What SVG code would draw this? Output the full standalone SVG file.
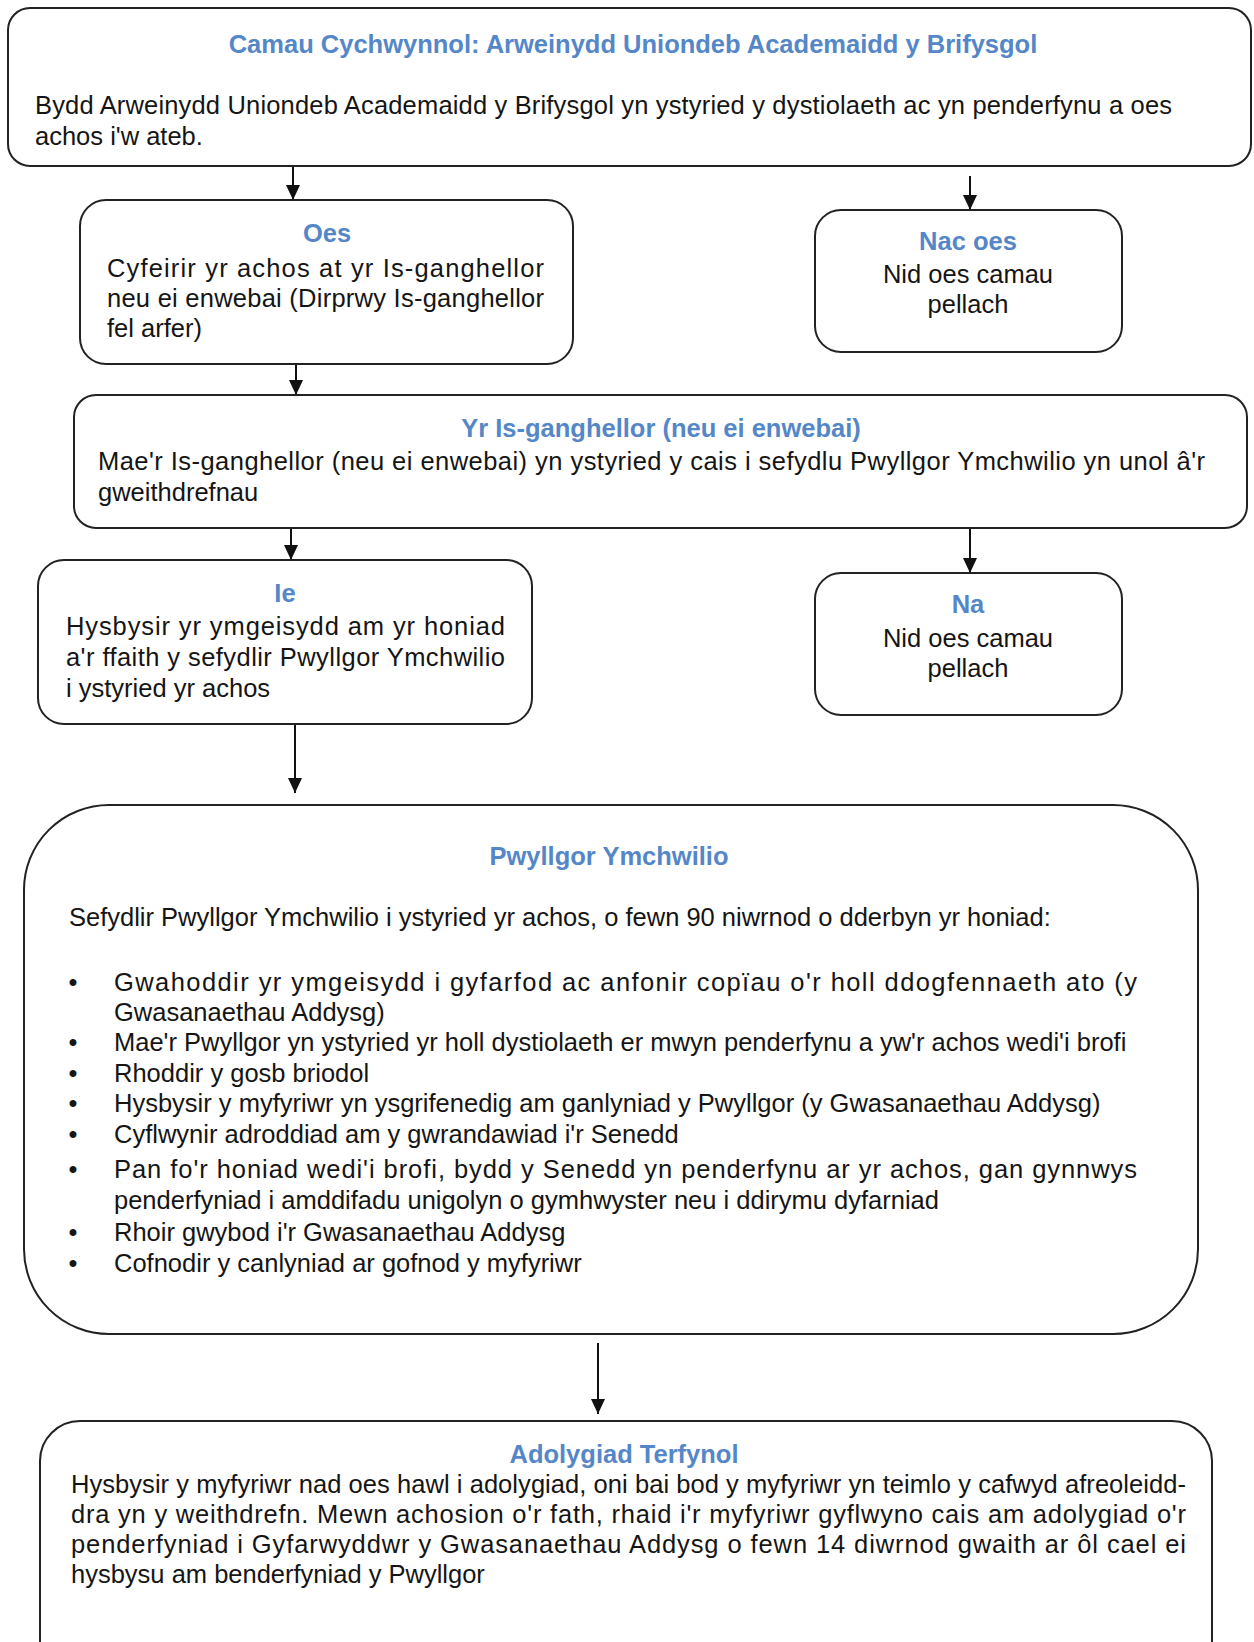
<svg xmlns="http://www.w3.org/2000/svg" width="1254" height="1642" viewBox="0 0 1254 1642">
<style>
.box{fill:#fff;stroke:#222;stroke-width:2}
.t{font-family:"Liberation Sans",Arial,sans-serif;font-size:25.5px;fill:#151515}
.h{font-family:"Liberation Sans",Arial,sans-serif;font-size:25.5px;font-weight:bold;fill:#5587c8;text-anchor:middle}
.c{text-anchor:middle}
.conn{stroke:#111;stroke-width:2;fill:none;marker-end:url(#ah)}
</style>
<defs>
<marker id="ah" viewBox="0 0 15 14" refX="15" refY="7" markerWidth="15" markerHeight="14" markerUnits="userSpaceOnUse" orient="auto">
<path d="M0,0 L15,7 L0,14 z" fill="#111"/>
</marker>
</defs>
<rect width="1254" height="1642" fill="#fff"/>

<g id="connectors">
<line class="conn" x1="293" y1="166" x2="293" y2="200"/>
<line class="conn" x1="970" y1="176" x2="970" y2="210"/>
<line class="conn" x1="296" y1="364" x2="296" y2="395"/>
<line class="conn" x1="291" y1="528" x2="291" y2="560"/>
<line class="conn" x1="970" y1="528" x2="970" y2="573"/>
<line class="conn" x1="295" y1="724" x2="295" y2="793"/>
<line class="conn" x1="598" y1="1343" x2="598" y2="1414"/>
</g>

<g id="node-camau">
<rect class="box" x="8" y="8" width="1243" height="158" rx="22"/>
<text class="h" x="633" y="53">Camau Cychwynnol: Arweinydd Uniondeb Academaidd y Brifysgol</text>
<text class="t" x="35" y="114" textLength="1137">Bydd Arweinydd Uniondeb Academaidd y Brifysgol yn ystyried y dystiolaeth ac yn penderfynu a oes</text>
<text class="t" x="35" y="145">achos i'w ateb.</text>
</g>

<g id="node-oes">
<rect class="box" x="80" y="200" width="493" height="164" rx="26"/>
<text class="h" x="327" y="242">Oes</text>
<text class="t" x="107" y="277" textLength="437">Cyfeirir yr achos at yr Is-ganghellor</text>
<text class="t" x="107" y="307" textLength="437">neu ei enwebai (Dirprwy Is-ganghellor</text>
<text class="t" x="107" y="337">fel arfer)</text>
</g>

<g id="node-nacoes">
<rect class="box" x="815" y="210" width="307" height="142" rx="26"/>
<text class="h" x="968" y="250">Nac oes</text>
<text class="t c" x="968" y="283">Nid oes camau</text>
<text class="t c" x="968" y="313">pellach</text>
</g>

<g id="node-isganghellor">
<rect class="box" x="74" y="395" width="1173" height="133" rx="22"/>
<text class="h" x="661" y="437">Yr Is-ganghellor (neu ei enwebai)</text>
<text class="t" x="98" y="470" textLength="1107">Mae'r Is-ganghellor (neu ei enwebai) yn ystyried y cais i sefydlu Pwyllgor Ymchwilio yn unol â'r</text>
<text class="t" x="98" y="501">gweithdrefnau</text>
</g>

<g id="node-ie">
<rect class="box" x="38" y="560" width="494" height="164" rx="26"/>
<text class="h" x="285" y="602">Ie</text>
<text class="t" x="66" y="635" textLength="439">Hysbysir yr ymgeisydd am yr honiad</text>
<text class="t" x="66" y="666" textLength="439">a'r ffaith y sefydlir Pwyllgor Ymchwilio</text>
<text class="t" x="66" y="697">i ystyried yr achos</text>
</g>

<g id="node-na">
<rect class="box" x="815" y="573" width="307" height="142" rx="26"/>
<text class="h" x="968" y="613">Na</text>
<text class="t c" x="968" y="647">Nid oes camau</text>
<text class="t c" x="968" y="677">pellach</text>
</g>

<g id="node-pwyllgor">
<rect class="box" x="24" y="805" width="1174" height="529" rx="85"/>
<text class="h" x="609" y="865">Pwyllgor Ymchwilio</text>
<text class="t" x="69" y="926">Sefydlir Pwyllgor Ymchwilio i ystyried yr achos, o fewn 90 niwrnod o dderbyn yr honiad:</text>
<g class="t c">
<text x="73" y="991">•</text>
<text x="73" y="1051">•</text>
<text x="73" y="1082">•</text>
<text x="73" y="1112">•</text>
<text x="73" y="1143">•</text>
<text x="73" y="1178">•</text>
<text x="73" y="1241">•</text>
<text x="73" y="1272">•</text>
</g>
<text class="t" x="114" y="991" textLength="1023">Gwahoddir yr ymgeisydd i gyfarfod ac anfonir copïau o'r holl ddogfennaeth ato (y</text>
<text class="t" x="114" y="1021">Gwasanaethau Addysg)</text>
<text class="t" x="114" y="1051">Mae'r Pwyllgor yn ystyried yr holl dystiolaeth er mwyn penderfynu a yw'r achos wedi'i brofi</text>
<text class="t" x="114" y="1082">Rhoddir y gosb briodol</text>
<text class="t" x="114" y="1112">Hysbysir y myfyriwr yn ysgrifenedig am ganlyniad y Pwyllgor (y Gwasanaethau Addysg)</text>
<text class="t" x="114" y="1143">Cyflwynir adroddiad am y gwrandawiad i'r Senedd</text>
<text class="t" x="114" y="1178" textLength="1023">Pan fo'r honiad wedi'i brofi, bydd y Senedd yn penderfynu ar yr achos, gan gynnwys</text>
<text class="t" x="114" y="1209">penderfyniad i amddifadu unigolyn o gymhwyster neu i ddirymu dyfarniad</text>
<text class="t" x="114" y="1241">Rhoir gwybod i'r Gwasanaethau Addysg</text>
<text class="t" x="114" y="1272">Cofnodir y canlyniad ar gofnod y myfyriwr</text>
</g>

<g id="node-adolygiad">
<rect class="box" x="40" y="1421" width="1172" height="300" rx="40"/>
<text class="h" x="624" y="1463">Adolygiad Terfynol</text>
<text class="t" x="71" y="1493" textLength="1115">Hysbysir y myfyriwr nad oes hawl i adolygiad, oni bai bod y myfyriwr yn teimlo y cafwyd afreoleidd-</text>
<text class="t" x="71" y="1523" textLength="1115">dra yn y weithdrefn. Mewn achosion o'r fath, rhaid i'r myfyriwr gyflwyno cais am adolygiad o'r</text>
<text class="t" x="71" y="1553" textLength="1115">penderfyniad i Gyfarwyddwr y Gwasanaethau Addysg o fewn 14 diwrnod gwaith ar ôl cael ei</text>
<text class="t" x="71" y="1583">hysbysu am benderfyniad y Pwyllgor</text>
</g>
</svg>
